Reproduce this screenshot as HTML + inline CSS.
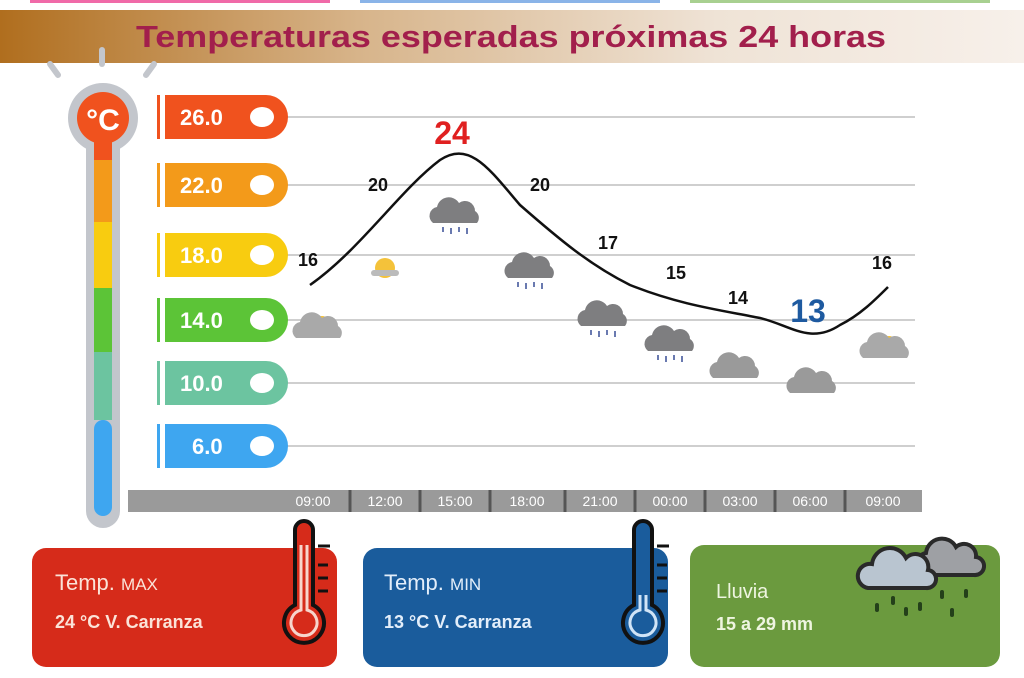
<!DOCTYPE html>
<html><head><meta charset="utf-8"><style>
html,body{margin:0;padding:0;background:#fff;width:1024px;height:678px;overflow:hidden}
svg{display:block;font-family:"Liberation Sans",sans-serif}
</style></head><body>
<svg width="1024" height="678" viewBox="0 0 1024 678">
<defs>
<linearGradient id="hd" x1="0" x2="1" y1="0" y2="0">
<stop offset="0" stop-color="#b06e1e"/><stop offset="0.35" stop-color="#d7b48a"/><stop offset="0.7" stop-color="#efe3d6"/><stop offset="1" stop-color="#f7f0ea"/>
</linearGradient>
<g id="cloud"><path d="M-22,8 a9,9 0 0 1 4,-16 a12,12 0 0 1 22,-4 a10,10 0 0 1 16,8 a8,8 0 0 1 2,12 z" fill="#9a9a9a"/></g>
<g id="rcloud"><path d="M-22,8 a9,9 0 0 1 4,-16 a12,12 0 0 1 22,-4 a10,10 0 0 1 16,8 a8,8 0 0 1 2,12 z" fill="#7e7e80"/>
<g stroke="#6a7ab0" stroke-width="2"><line x1="-12" y1="12" x2="-12" y2="17"/><line x1="-4" y1="13" x2="-4" y2="19"/><line x1="4" y1="12" x2="4" y2="17"/><line x1="12" y1="13" x2="12" y2="19"/></g></g>
<g id="sun"><circle cx="4" cy="-6" r="8" fill="#f4c23a"/><path d="M-22,8 a9,9 0 0 1 4,-16 a12,12 0 0 1 22,-4 a10,10 0 0 1 16,8 a8,8 0 0 1 2,12 z" fill="#a9a9a9"/></g>
</defs>
<rect x="30" y="0" width="300" height="3" fill="#f06aa8"/><rect x="360" y="0" width="300" height="3" fill="#8ab4e8"/><rect x="690" y="0" width="300" height="3" fill="#a8d090"/>
<rect x="0" y="10" width="1024" height="53" fill="url(#hd)"/>
<text x="136" y="47" font-size="31" font-weight="bold" fill="#a21f4c" textLength="750" lengthAdjust="spacingAndGlyphs">Temperaturas esperadas próximas 24 horas</text>
<!-- thermometer -->
<g stroke="#c3c6cc" stroke-width="6" stroke-linecap="round"><line x1="102" y1="50" x2="102" y2="64"/><line x1="50" y1="64" x2="58" y2="75"/><line x1="154" y1="64" x2="146" y2="75"/></g>
<circle cx="103" cy="118" r="35" fill="#c3c6cc"/>
<rect x="86" y="118" width="34" height="410" rx="17" fill="#c3c6cc"/>
<circle cx="103" cy="118" r="26" fill="#f0521e"/>
<text x="103" y="130" text-anchor="middle" font-size="30" fill="#fff" font-weight="bold">°C</text>
<rect x="94" y="140" width="18" height="22" fill="#f0521e"/>
<rect x="94" y="160" width="18" height="62" fill="#f39a1a"/>
<rect x="94" y="222" width="18" height="66" fill="#f8cc10"/>
<rect x="94" y="288" width="18" height="64" fill="#5cc437"/>
<rect x="94" y="352" width="18" height="68" fill="#6cc4a0"/>
<rect x="94" y="420" width="18" height="96" rx="9" fill="#3ea6f0"/>
<!-- grid -->
<g stroke="#cfcfcf" stroke-width="2">
<line x1="280" y1="117" x2="915" y2="117"/><line x1="280" y1="185" x2="915" y2="185"/><line x1="280" y1="255" x2="915" y2="255"/><line x1="280" y1="320" x2="915" y2="320"/><line x1="280" y1="383" x2="915" y2="383"/><line x1="280" y1="446" x2="915" y2="446"/></g>
<!-- pills -->
<g font-size="22" font-weight="bold" fill="#fff">
<g transform="translate(0,117)"><rect x="157" y="-22" width="3" height="44" fill="#f0521e"/><path d="M165,-22 H266 a22,22 0 0 1 0,44 H165 z" fill="#f0521e"/><ellipse cx="262" cy="0" rx="12" ry="10" fill="#fff"/><text x="180" y="8" fill="#fff">26.0</text></g>
<g transform="translate(0,185)"><rect x="157" y="-22" width="3" height="44" fill="#f39a1a"/><path d="M165,-22 H266 a22,22 0 0 1 0,44 H165 z" fill="#f39a1a"/><ellipse cx="262" cy="0" rx="12" ry="10" fill="#fff"/><text x="180" y="8" fill="#fff">22.0</text></g>
<g transform="translate(0,255)"><rect x="157" y="-22" width="3" height="44" fill="#f8cc10"/><path d="M165,-22 H266 a22,22 0 0 1 0,44 H165 z" fill="#f8cc10"/><ellipse cx="262" cy="0" rx="12" ry="10" fill="#fff"/><text x="180" y="8" fill="#fff">18.0</text></g>
<g transform="translate(0,320)"><rect x="157" y="-22" width="3" height="44" fill="#5cc437"/><path d="M165,-22 H266 a22,22 0 0 1 0,44 H165 z" fill="#5cc437"/><ellipse cx="262" cy="0" rx="12" ry="10" fill="#fff"/><text x="180" y="8" fill="#fff">14.0</text></g>
<g transform="translate(0,383)"><rect x="157" y="-22" width="3" height="44" fill="#6cc4a0"/><path d="M165,-22 H266 a22,22 0 0 1 0,44 H165 z" fill="#6cc4a0"/><ellipse cx="262" cy="0" rx="12" ry="10" fill="#fff"/><text x="180" y="8" fill="#fff">10.0</text></g>
<g transform="translate(0,446)"><rect x="157" y="-22" width="3" height="44" fill="#3ea6f0"/><path d="M165,-22 H266 a22,22 0 0 1 0,44 H165 z" fill="#3ea6f0"/><ellipse cx="262" cy="0" rx="12" ry="10" fill="#fff"/><text x="192" y="8" fill="#fff">6.0</text></g>
</g>
<!-- axis bar -->
<rect x="128" y="490" width="794" height="22" fill="#9a9a9a"/>
<g stroke="#555" stroke-width="3"><line x1="350" y1="490" x2="350" y2="512"/><line x1="420" y1="490" x2="420" y2="512"/><line x1="490" y1="490" x2="490" y2="512"/><line x1="565" y1="490" x2="565" y2="512"/><line x1="635" y1="490" x2="635" y2="512"/><line x1="705" y1="490" x2="705" y2="512"/><line x1="775" y1="490" x2="775" y2="512"/><line x1="845" y1="490" x2="845" y2="512"/></g>
<g font-size="14" fill="#fff" text-anchor="middle">
<text x="313" y="506">09:00</text><text x="385" y="506">12:00</text><text x="455" y="506">15:00</text><text x="527" y="506">18:00</text><text x="600" y="506">21:00</text><text x="670" y="506">00:00</text><text x="740" y="506">03:00</text><text x="810" y="506">06:00</text><text x="883" y="506">09:00</text></g>
<!-- curve -->
<path d="M310,285 C360,250 400,190 440,160 C470,140 490,170 520,205 C560,240 590,265 630,285 C680,305 720,310 760,318 C790,325 810,345 840,325 C860,315 875,300 888,287" fill="none" stroke="#111" stroke-width="2.5"/>
<g font-size="18" font-weight="bold" fill="#111" text-anchor="middle">
<text x="308" y="266">16</text><text x="378" y="191">20</text><text x="540" y="191">20</text><text x="608" y="249">17</text><text x="676" y="279">15</text><text x="738" y="304">14</text><text x="882" y="269">16</text></g>
<text x="452" y="144" font-size="32" font-weight="bold" fill="#e02020" text-anchor="middle">24</text>
<text x="808" y="322" font-size="32" font-weight="bold" fill="#1e5aa0" text-anchor="middle">13</text>
<!-- icons -->
<use href="#sun" x="318" y="330"/>
<g transform="translate(385,268)"><circle r="10" fill="#f4c23a"/><rect x="-14" y="2" width="28" height="6" rx="3" fill="#bbb"/></g>
<use href="#rcloud" x="455" y="215"/>
<use href="#rcloud" x="530" y="270"/>
<use href="#rcloud" x="603" y="318"/>
<use href="#rcloud" x="670" y="343"/>
<use href="#cloud" x="735" y="370"/>
<use href="#cloud" x="812" y="385"/>
<use href="#sun" x="885" y="350"/>
<!-- bottom boxes -->
<rect x="32" y="548" width="305" height="119" rx="14" fill="#d62b1a"/>
<text x="55" y="590" font-size="22" fill="#fbe3d8">Temp. <tspan font-size="17">MAX</tspan></text>
<text x="55" y="628" font-size="18" font-weight="bold" fill="#fbe3d8">24 °C  V. Carranza</text>
<rect x="363" y="548" width="305" height="119" rx="14" fill="#1a5c9c"/>
<text x="384" y="590" font-size="22" fill="#e3eefa">Temp. <tspan font-size="17">MIN</tspan></text>
<text x="384" y="628" font-size="18" font-weight="bold" fill="#e3eefa">13 °C  V. Carranza</text>
<rect x="690" y="545" width="310" height="122" rx="14" fill="#6b9a3e"/>
<text x="716" y="598" font-size="20" fill="#eef5e0">Lluvia</text>
<text x="716" y="630" font-size="18" font-weight="bold" fill="#eef5e0">15 a 29 mm</text>
<!-- thermometers -->
<g transform="translate(304,0)"><path d="M-9,530 a9,9 0 0 1 18,0 V605 a20,20 0 1 1 -18,0 z" fill="#d62b1a" stroke="#111" stroke-width="4"/><path d="M-3,545 V610 a13,13 0 1 0 6,0 V545" fill="none" stroke="#f7d5cc" stroke-width="3"/>
<g stroke="#111" stroke-width="3"><line x1="14" y1="546" x2="26" y2="546"/><line x1="14" y1="565" x2="24" y2="565"/><line x1="14" y1="578" x2="24" y2="578"/><line x1="14" y1="591" x2="24" y2="591"/></g></g>
<g transform="translate(643,0)"><path d="M-9,530 a9,9 0 0 1 18,0 V605 a20,20 0 1 1 -18,0 z" fill="#1a5c9c" stroke="#111" stroke-width="4"/><path d="M-3,595 V610 a13,13 0 1 0 6,0 V595" fill="none" stroke="#d0e4f7" stroke-width="3"/>
<g stroke="#111" stroke-width="3"><line x1="14" y1="546" x2="26" y2="546"/><line x1="14" y1="565" x2="24" y2="565"/><line x1="14" y1="578" x2="24" y2="578"/><line x1="14" y1="591" x2="24" y2="591"/></g></g>
<!-- rain cloud -->
<g stroke="#2a2a2a" stroke-width="4">
<path d="M922,575 a12,12 0 0 1 4,-22 a16,16 0 0 1 30,-6 a12,12 0 0 1 20,10 a9,9 0 0 1 -2,18 z" fill="#9ea0a4"/>
<path d="M868,588 a12,12 0 0 1 4,-24 a18,18 0 0 1 34,-6 a13,13 0 0 1 22,12 a9,9 0 0 1 -2,18 z" fill="#b9c5d0"/></g>
<g stroke="#24401a" stroke-width="4" stroke-linecap="round">
<line x1="877" y1="605" x2="877" y2="610"/><line x1="893" y1="598" x2="893" y2="603"/><line x1="906" y1="609" x2="906" y2="614"/><line x1="920" y1="604" x2="920" y2="609"/><line x1="942" y1="592" x2="942" y2="597"/><line x1="952" y1="610" x2="952" y2="615"/><line x1="966" y1="591" x2="966" y2="596"/></g>
</svg>
</body></html>
